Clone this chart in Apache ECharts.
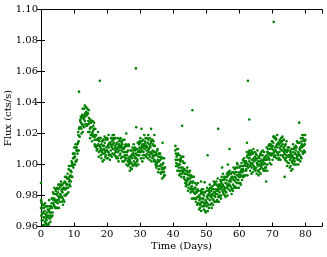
<!DOCTYPE html>
<html><head><meta charset="utf-8">
<script src="https://cdn.jsdelivr.net/npm/echarts@6/dist/echarts.min.js"></script>
<style>html,body{margin:0;padding:0;background:#fff}#c{width:327px;height:257px}</style>
</head><body><div id="c"></div>
<script>
// Flux values in milli-units (cts/s x 1000)
// Main cadence: one observation every 0.1 day
var cadence = 0.1;
var seg1Start = 0.0;
var seg1MilliFlux = [
972,967,975,969,968,972,964,969,966,972,
966,970,963,968,973,965,967,964,969,966,
971,967,966,962,970,971,969,973,967,972,
969,973,975,972,978,969,978,975,977,974,
978,973,977,981,976,983,977,976,981,985,
980,982,977,984,979,978,987,976,981,979,
980,987,983,979,984,982,978,985,977,984,
985,980,989,984,984,988,981,987,985,991,
987,991,985,991,997,989,992,990,996,993,
999,996,995,992,1000,1001,999,1004,998,1004,
1000,1005,1007,1005,1011,1002,1011,1009,1011,1009,
1013,1009,1014,1019,1015,1023,1018,1018,1024,1029,
1024,1027,1023,1030,1026,1026,1036,1025,1031,1030,
1029,1036,1032,1028,1033,1031,1026,1034,1025,1033,
1032,1026,1033,1028,1026,1030,1021,1027,1023,1029,
1024,1027,1019,1024,1028,1020,1021,1018,1022,1019,
1023,1018,1016,1012,1018,1019,1016,1019,1012,1016,
1012,1016,1016,1013,1017,1008,1015,1012,1012,1009,
1011,1006,1010,1013,1008,1015,1009,1007,1012,1016,
1010,1012,1007,1014,1009,1008,1017,1006,1011,1009,
1009,1016,1012,1008,1013,1011,1007,1014,1006,1013,
1014,1009,1017,1012,1011,1015,1007,1013,1010,1016,
1010,1014,1007,1012,1017,1009,1011,1008,1013,1010,
1014,1010,1008,1004,1011,1012,1009,1013,1006,1011,
1007,1011,1012,1009,1014,1005,1013,1010,1011,1008,
1010,1005,1008,1011,1006,1012,1006,1004,1008,1012,
1006,1008,1002,1009,1004,1003,1012,1001,1005,1003,
1002,1009,1005,1001,1006,1004,1000,1007,999,1006,
1007,1002,1010,1005,1004,1009,1001,1007,1004,1010,
1006,1010,1003,1008,1014,1006,1009,1006,1011,1008,
1014,1010,1008,1004,1011,1012,1009,1013,1006,1011,
1008,1012,1013,1010,1015,1006,1014,1011,1012,1009,
1012,1007,1011,1014,1009,1016,1010,1008,1013,1017,
1011,1012,1007,1014,1008,1007,1016,1004,1009,1006,
1005,1012,1008,1003,1008,1006,1002,1008,1000,1007,
1006,1001,1009,1003,1002,1005,997,1002,999,1005,
999,1003,995,1000,1005,997,998,995,1000,997,
1001,997,995,993,998,998
];
var seg2Start = 40.6;
var seg2MilliFlux = [
1009,1003,1007,1001,
1005,999,1003,1006,1000,1007,1000,998,1003,1006,
1000,1002,996,1003,998,996,1005,994,998,996,
995,1001,997,992,997,994,990,996,988,994,
994,989,996,991,990,993,985,991,987,993,
988,991,984,989,993,985,986,983,988,984,
989,984,982,978,984,985,981,985,978,982,
978,982,983,979,984,975,983,979,980,977,
979,974,978,981,975,982,976,973,978,982,
976,978,973,980,975,974,982,970,977,975,
976,983,979,975,980,978,974,981,972,980,
982,977,985,980,979,983,975,981,978,984,
980,984,977,982,987,980,982,979,984,981,
987,983,981,977,984,986,983,987,980,985,
982,986,987,984,989,980,988,985,986,983,
987,982,986,990,984,991,985,983,988,992,
988,990,985,992,987,986,995,984,989,987,
987,994,990,986,991,989,985,992,984,991,
992,987,995,990,990,994,986,992,989,995,
991,995,988,993,998,990,993,990,995,992,
998,994,992,988,995,996,993,997,990,995,
992,997,999,996,1002,993,1002,1000,1001,999,
1002,997,1001,1005,999,1006,1000,998,1004,1008,
1002,1004,999,1006,1001,1000,1009,998,1003,1001,
1000,1007,1003,999,1004,1002,998,1005,997,1004,
1003,998,1006,1001,1000,1004,996,1002,999,1005,
1000,1004,997,1002,1007,999,1001,998,1003,1000,
1006,1002,1000,996,1003,1004,1001,1005,998,1003,
1000,1004,1006,1003,1008,1000,1008,1005,1007,1004,
1007,1003,1007,1010,1006,1013,1007,1006,1011,1015,
1010,1012,1007,1014,1009,1008,1018,1006,1011,1009,
1009,1016,1012,1008,1013,1011,1007,1014,1006,1013,
1013,1008,1016,1011,1010,1014,1006,1012,1009,1015,
1009,1013,1006,1011,1016,1008,1010,1007,1012,1009,
1013,1009,1006,1002,1008,1009,1005,1009,1001,1006,
1001,1005,1006,1003,1008,999,1007,1004,1005,1002,
1006,1001,1005,1008,1003,1010,1004,1002,1007,1011,
1007,1009,1004,1011,1006,1005,1014,1003,1008,1006,
1007,1014,1010,1006,1011,1009,1005,1012,1004,1011,
1013,1008,1017,1012,1012,1016,1009,1015,1013,1019,
1016
];
// Interleaved observations, one every 0.2 day, offset by 0.05 day
var cadenceB = 0.2;
var seg1bStart = 0.05;
var seg1bMilliFlux = [
977,964,974,961,974, 961,975,962,973,961, 973,961,977,965,963,
966,978,967,982,981, 985,972,984,972,972, 975,987,972,985,986,
989,976,987,974,988, 976,992,980,992,981, 994,982,999,987,986,
989,1002,992,1007,1007, 1011,1000,1013,1002,1003, 1007,1021,1009,1024,1028,
1031,1020,1032,1021,1036, 1024,1038,1026,1037,1025, 1036,1021,1035,1021,1017,
1019,1028,1015,1028,1025, 1027,1013,1023,1011,1009, 1010,1021,1005,1017,1017,
1017,1004,1015,1002,1016, 1003,1018,1005,1016,1004, 1017,1004,1019,1006,1003,
1006,1017,1005,1019,1017, 1019,1006,1017,1005,1004, 1005,1017,1002,1015,1016,
1017,1004,1015,1002,1016, 1002,1016,1003,1013,1000, 1012,999,1013,1000,996,
998,1009,997,1011,1009, 1013,1000,1011,1000,999, 1002,1014,1000,1013,1015,
1017,1004,1015,1002,1016, 1004,1019,1006,1017,1005, 1017,1004,1019,1006,1003,
1005,1015,1002,1016,1013, 1015,1002,1012,1000,998, 999,1010,995,1007,1007,
1007,994,1004,991,1004, 992,1004,993
];
var seg2bStart = 40.65;
var seg2bMilliFlux = [
1012,999,
1010,996,1010,996,993, 994,1004,992,1005,1002, 1005,991,1001,988,986,
987,998,983,995,995, 996,982,992,978,992, 978,992,978,988,976,
987,974,988,975,971, 972,983,970,984,981, 984,971,982,970,969,
973,985,970,983,984, 987,974,985,972,986, 974,989,976,988,976,
989,976,991,979,976, 979,990,978,992,990, 994,981,992,980,979,
982,994,980,993,995, 996,983,994,981,995, 983,998,985,997,985,
998,985,1000,988,985, 988,999,987,1001,999, 1003,992,1004,993,993,
996,1008,993,1006,1007, 1009,996,1007,994,1008, 995,1010,997,1008,996,
1007,994,1009,996,993, 995,1006,994,1008,1006, 1009,997,1008,996,996,
998,1011,996,1010,1012, 1013,1001,1012,1000,1015, 1003,1018,1005,1017,1005,
1017,1004,1019,1006,1003, 1004,1015,1003,1017,1015, 1018,1005,1016,1004,1003,
1004,1015,999,1011,1011, 1011,998,1009,996,1010, 997,1013,1000,1011,1000,
1012,1000,1015,1003,1000, 1003,1014,1002,1017,1015, 1019,1007,1019,1008,1008
];
// Isolated points
var outlierTime = [0.0, 0.1, 11.5, 17.8, 28.7, 28.8, 30.4, 33.3, 25.8, 34.3, 36.8, 42.7, 45.8, 53.6, 57.0, 50.4, 54.8, 56.5, 59.3, 48.4, 49.5, 62.3, 62.6, 63.0, 70.4, 78.1, 73.7, 68.1];
var outlierFlux = [0.988, 0.976, 1.047, 1.054, 1.062, 1.024, 1.023, 1.023, 1.020, 1.019, 1.014, 1.025, 1.035, 1.023, 1.010, 1.006, 0.998, 1.000, 1.001, 0.989, 0.9885, 1.014, 1.054, 1.029, 1.092, 1.027, 0.992, 0.989];
var xTicks = [0, 10, 20, 30, 40, 50, 60, 70, 80];

var pts = [];
function addSeg(start, step, arr) {
  arr.forEach(function (f, i) { pts.push([start + i * step, f / 1000]); });
}
addSeg(seg1Start, cadence, seg1MilliFlux);
addSeg(seg2Start, cadence, seg2MilliFlux);
addSeg(seg1bStart, cadenceB, seg1bMilliFlux);
addSeg(seg2bStart, cadenceB, seg2bMilliFlux);
outlierTime.forEach(function (t, i) { pts.push([t, outlierFlux[i]]); });

var font = 'DejaVu Serif';
var baseAxis = {
  axisLine: { show: true, lineStyle: { color: '#000', width: 1 } },
  axisTick: { show: true, inside: true, length: 4, lineStyle: { color: '#000' } },
  splitLine: { show: false }
};
var chart = echarts.init(document.getElementById('c'), null, { renderer: 'canvas' });
chart.setOption({
  animation: false,
  backgroundColor: '#fff',
  grid: { left: 41, right: 5, top: 9.5, bottom: 30.5, containLabel: false, outerBoundsMode: 'none' },
  xAxis: [
    Object.assign({}, baseAxis, {
      type: 'value', min: 0, max: 85, interval: 10, position: 'bottom',
      name: 'Time (Days)', nameLocation: 'middle', nameGap: 15, nameMoveOverlap: false,
      nameTextStyle: { fontFamily: font, fontSize: 10, color: '#000' },
      axisLabel: { fontFamily: font, fontSize: 10, color: '#000', margin: 3,
        formatter: function (v) { return xTicks.indexOf(v) >= 0 ? String(v) : ''; } }
    }),
    Object.assign({}, baseAxis, {
      type: 'value', min: 0, max: 85, interval: 10, position: 'top',
      axisLabel: { show: false }
    })
  ],
  yAxis: [
    Object.assign({}, baseAxis, {
      type: 'value', min: 0.96, max: 1.10, interval: 0.02, position: 'left',
      name: 'Flux (cts/s)', nameLocation: 'middle', nameGap: 28, nameMoveOverlap: false,
      nameTextStyle: { fontFamily: font, fontSize: 10, color: '#000' },
      axisLabel: { fontFamily: font, fontSize: 10, color: '#000', margin: 3,
        formatter: function (v) { return v.toFixed(2); } }
    }),
    Object.assign({}, baseAxis, {
      type: 'value', min: 0.96, max: 1.10, interval: 0.02, position: 'right',
      axisLabel: { show: false }
    })
  ],
  series: [{
    type: 'scatter', xAxisIndex: 0, yAxisIndex: 0,
    data: pts, symbol: 'circle', symbolSize: 2.6,
    itemStyle: { color: '#008000', opacity: 1 },
    silent: true
  }]
});
</script></body></html>
